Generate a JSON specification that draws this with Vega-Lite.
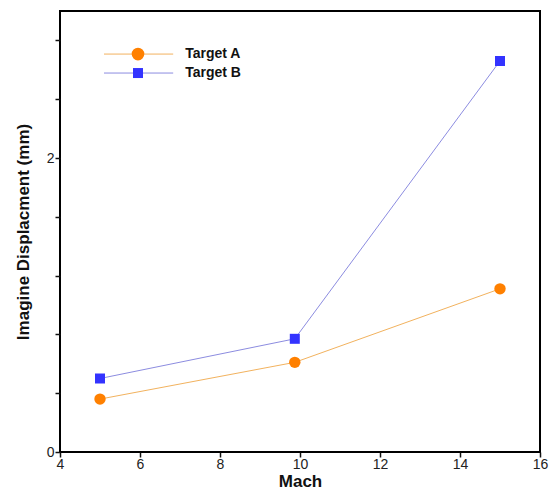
{
  "$schema": "https://vega.github.io/schema/vega-lite/v6.json",
  "autosize": {"type": "none"},
  "padding": {"left": 60, "top": 11, "right": 13, "bottom": 39},
  "width": 480,
  "height": 441,
  "background": "#ffffff",
  "config": {
    "font": "Liberation Sans",
    "view": {"stroke": "#000000", "strokeWidth": 2},
    "axis": {"grid": false, "domain": false, "labelFont": "Liberation Sans", "titleFont": "Liberation Sans", "labelColor": "#222222", "titleColor": "#111111", "tickColor": "#111111"}
  },
  "data": {
    "values": [
      {"mach": 5, "disp": 0.36, "series": "Target A"},
      {"mach": 9.87, "disp": 0.61, "series": "Target A"},
      {"mach": 15, "disp": 1.11, "series": "Target A"},
      {"mach": 5, "disp": 0.50, "series": "Target B"},
      {"mach": 9.87, "disp": 0.77, "series": "Target B"},
      {"mach": 15, "disp": 2.66, "series": "Target B"}
    ]
  },
  "layer": [
    {
      "mark": {"type": "line", "strokeWidth": 1},
      "encoding": {
        "x": {
          "field": "mach", "type": "quantitative",
          "scale": {"domain": [4, 16], "nice": false, "zero": false},
          "axis": {
            "ticks": true, "tickSize": 5, "tickWidth": 1.5, "tickColor": "#111111",
            "title": "Mach", "titleFontSize": 17, "titleFontWeight": "bold", "titlePadding": 2,
            "values": [4,4.5,5,5.5,6,6.5,7,7.5,8,8.5,9,9.5,10,10.5,11,11.5,12,12.5,13,13.5,14,14.5,15,15.5,16],
            "labelExpr": "datum.value % 2 === 0 ? format(datum.value, 'd') : ''",
            "labelOverlap": false,
            "labelFontSize": 14, "labelPadding": 0, "labelFlush": false
          }
        },
        "y": {
          "field": "disp", "type": "quantitative",
          "scale": {"domain": [0, 3], "nice": false},
          "axis": {
            "ticks": true, "tickSize": 5, "tickWidth": 1.5, "tickColor": "#111111",
            "title": "Imagine Displacment (mm)", "titleFontSize": 17, "titleFontWeight": "bold", "titlePadding": 14,
            "values": [0,0.2,0.4,0.6,0.8,1,1.2,1.4,1.6,1.8,2,2.2,2.4,2.6,2.8,3],
            "labelExpr": "abs(datum.value - round(datum.value)) < 0.001 ? format(round(datum.value), 'd') : ''",
            "labelOverlap": false,
            "labelFontSize": 14, "labelPadding": 1, "labelFlush": false
          }
        },
        "stroke": {"field": "series", "type": "nominal", "scale": {"domain": ["Target A", "Target B"], "range": ["#f2b25e", "#8c8ce0"]}, "legend": null}
      }
    },
    {
      "mark": {"type": "point", "filled": true, "opacity": 1},
      "encoding": {
        "x": {"field": "mach", "type": "quantitative"},
        "y": {"field": "disp", "type": "quantitative"},
        "color": {"field": "series", "type": "nominal", "scale": {"domain": ["Target A", "Target B"], "range": ["#ff8000", "#3333ff"]}, "legend": null},
        "shape": {"field": "series", "type": "nominal", "scale": {"domain": ["Target A", "Target B"], "range": ["circle", "square"]}, "legend": null},
        "size": {"condition": {"test": "datum.series === 'Target A'", "value": 130}, "value": 100}
      }
    },
    {
      "data": {"values": [{"series": "Target A"}]},
      "mark": {"type": "rule", "stroke": "#f2b25e", "color": "#f2b25e", "strokeWidth": 1},
      "encoding": {"x": {"datum": 5.1}, "x2": {"datum": 6.83}, "y": {"datum": 2.707}}
    },
    {
      "data": {"values": [{"series": "Target B"}]},
      "mark": {"type": "rule", "stroke": "#8c8ce0", "color": "#8c8ce0", "strokeWidth": 1},
      "encoding": {"x": {"datum": 5.1}, "x2": {"datum": 6.83}, "y": {"datum": 2.578}}
    },
    {
      "data": {"values": [{"series": "Target A"}]},
      "mark": {"type": "point", "filled": true, "opacity": 1, "shape": "circle", "size": 160, "fill": "#ff8000", "color": "#ff8000"},
      "encoding": {"x": {"datum": 5.95}, "y": {"datum": 2.707}}
    },
    {
      "data": {"values": [{"series": "Target B"}]},
      "mark": {"type": "point", "filled": true, "opacity": 1, "shape": "square", "size": 100, "fill": "#3333ff", "color": "#3333ff"},
      "encoding": {"x": {"datum": 5.95}, "y": {"datum": 2.578}}
    },
    {
      "data": {"values": [{"series": "Target A"}]},
      "mark": {"type": "text", "align": "left", "baseline": "middle", "font": "Liberation Sans", "fontSize": 14, "fontWeight": "bold", "color": "#111111", "fill": "#111111"},
      "encoding": {"text": {"field": "series"}, "x": {"datum": 7.13}, "y": {"datum": 2.707}}
    },
    {
      "data": {"values": [{"series": "Target B"}]},
      "mark": {"type": "text", "align": "left", "baseline": "middle", "font": "Liberation Sans", "fontSize": 14, "fontWeight": "bold", "color": "#111111", "fill": "#111111"},
      "encoding": {"text": {"field": "series"}, "x": {"datum": 7.13}, "y": {"datum": 2.578}}
    }
  ]
}
